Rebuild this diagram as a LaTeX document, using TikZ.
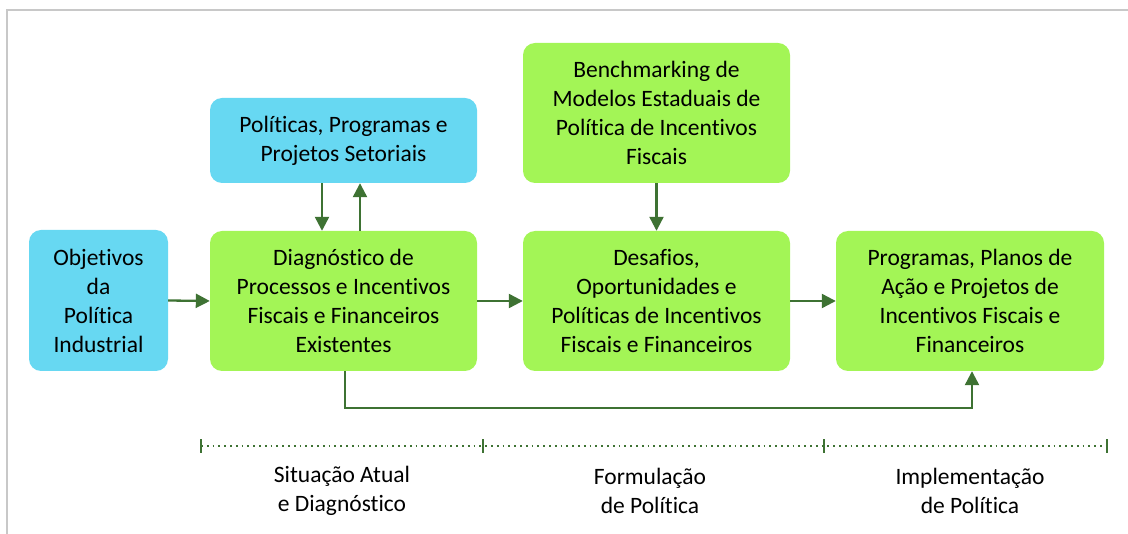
\documentclass[tikz,border=0pt]{standalone}
\usepackage{fontspec}
\setmainfont[Ligatures={NoCommon}]{Carlito}
\usetikzlibrary{arrows.meta}
\definecolor{boxgreen}{HTML}{A3F556}
\definecolor{boxblue}{HTML}{67D8F2}
\definecolor{arrgreen}{HTML}{3E7233}
\definecolor{framegray}{HTML}{C8C8C8}
\tikzset{
  box/.style={rounded corners=12pt, draw=none, align=center, inner sep=0pt,
    font=\fontsize{23.5}{29}\selectfont},
  gbox/.style={box, fill=boxgreen},
  bbox/.style={box, fill=boxblue},
  arr/.style={draw=arrgreen, line width=2.3pt, -{Triangle[length=14pt,width=14pt]}},
  lbl/.style={align=center, font=\fontsize{23.5}{29}\selectfont},
  tick/.style={draw=arrgreen, line width=2.2pt},
}
\begin{document}
\begin{tikzpicture}[x=1pt,y=-1pt]
\useasboundingbox (0,0) rectangle (1128,534);
\draw[framegray, line width=2.5pt] (7,534) -- (7,10) -- (1128,10);
% boxes
\node[bbox, minimum width=139pt, minimum height=141pt] (obj) at (98.5,300.5) {Objetivos\\da\\Política\\Industrial};
\node[gbox, minimum width=267pt, minimum height=140pt] (diag) at (343.5,301) {Diagnóstico de\\Processos e Incentivos\\Fiscais e Financeiros\\Existentes};
\node[bbox, minimum width=267pt, minimum height=85pt] (pol) at (343.5,140.5) {Políticas, Programas e\\Projetos Setoriais};
\node[gbox, minimum width=267pt, minimum height=140pt] (bench) at (656.5,113) {Benchmarking de\\Modelos Estaduais de\\Política de Incentivos\\Fiscais};
\node[gbox, minimum width=267pt, minimum height=140pt] (des) at (656.5,301) {Desafios,\\Oportunidades e\\Políticas de Incentivos\\Fiscais e Financeiros};
\node[gbox, minimum width=268pt, minimum height=140pt] (prog) at (970,301) {Programas, Planos de\\Ação e Projetos de\\Incentivos Fiscais e\\Financeiros};
% arrows
\draw[arr] (obj.east) -- (diag.west);
\draw[arr] (diag.east) -- (des.west);
\draw[arr] (des.east) -- (prog.west);
\draw[arr] (pol.south -| 322,0) -- (diag.north -| 322,0);
\draw[arr] (diag.north -| 360,0) -- (pol.south -| 360,0);
\draw[arr] (bench) -- (des);
\coordinate (c1) at (345,408);
\coordinate (c2) at (972,408);
\draw[arr] (diag.south -| c1) -- (c1) -- (c2) -- (prog.south -| c2);
% timeline
\coordinate (t0) at (201,446);
\coordinate (t1) at (483,446);
\coordinate (t2) at (824,446);
\coordinate (t3) at (1107,446);
\draw[arrgreen, line width=1.8pt, dash pattern=on 1.8pt off 4pt] (t0) -- (t3);
\foreach \t in {t0,t1,t2,t3} \draw[tick] ([yshift=-7pt]\t) -- ([yshift=7pt]\t);
\node[lbl] (l1) at (342,491) {Situação Atual\\e Diagnóstico};
\node[lbl] (l2) at (650,491) {Formulação\\de Política};
\node[lbl] (l3) at (970,491) {Implementação\\de Política};
\end{tikzpicture}
\end{document}
